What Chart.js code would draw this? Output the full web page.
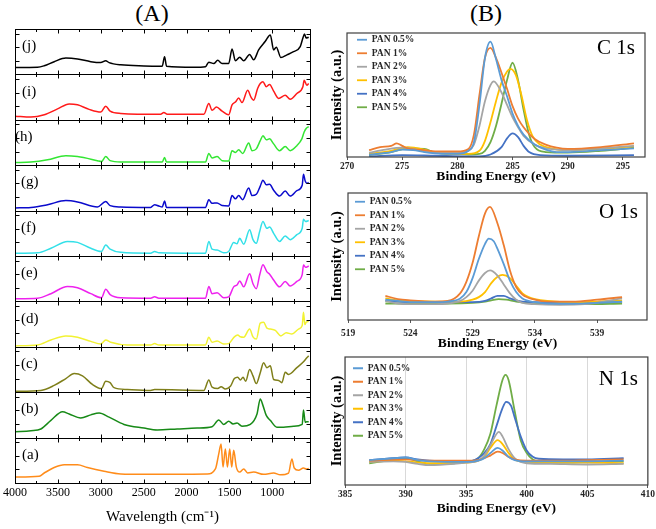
<!DOCTYPE html>
<html>
<head>
<meta charset="utf-8">
<script src="https://cdn.jsdelivr.net/npm/chart.js@4.4.1/dist/chart.umd.min.js"></script>
<style>
  html, body { margin: 0; padding: 0; background: #fff; }
  #page { position: relative; width: 656px; height: 529px; overflow: hidden; }
  canvas { position: absolute; }
  .head { position: absolute; font: 24px "Liberation Serif", serif; color: #000; transform: translate(-50%, -50%); }
</style>
</head>
<body>
<div id="page">
  <div class="head" style="left:152px;top:13px">(A)</div>
  <div class="head" style="left:486px;top:13px">(B)</div>
  <canvas id="ftir" width="330" height="529" style="left:0;top:0"></canvas>
  <canvas id="c1s" width="326" height="165" style="left:330px;top:20px"></canvas>
  <canvas id="o1s" width="326" height="167" style="left:330px;top:185px"></canvas>
  <canvas id="n1s" width="326" height="177" style="left:330px;top:352px"></canvas>
</div>
<script>
// ---- (A) FTIR spectra, [wavenumber, relative intensity in its own panel] ----
const ftirJ = [[4000,0.15],[3736,0.156],[3659,0.19],[3543,0.28],[3407,0.36],[3271,0.34],[3116,0.28],[3000,0.26],[2942,0.30],[2903,0.26],[2767,0.21],[2496,0.185],[2283,0.18],[2256,0.39],[2233,0.18],[1915,0.155],[1779,0.17],[1740,0.27],[1682,0.24],[1636,0.31],[1585,0.24],[1508,0.24],[1469,0.56],[1430,0.30],[1380,0.38],[1333,0.30],[1264,0.44],[1217,0.32],[1159,0.54],[1081,0.73],[1023,0.87],[984,0.54],[953,0.60],[899,0.37],[829,0.43],[752,0.50],[674,0.61],[643,0.80],[624,0.89],[605,0.80],[575,0.82]];
const ftirI = [[4000,0.08],[3814,0.06],[3659,0.11],[3504,0.24],[3368,0.35],[3271,0.33],[3136,0.23],[3000,0.17],[2942,0.30],[2891,0.19],[2767,0.14],[2302,0.12],[2264,0.16],[2225,0.12],[1798,0.12],[1740,0.36],[1702,0.21],[1651,0.28],[1585,0.19],[1508,0.11],[1469,0.33],[1430,0.39],[1392,0.48],[1353,0.38],[1287,0.65],[1248,0.50],[1217,0.43],[1171,0.69],[1140,0.80],[1109,0.84],[1070,0.73],[1031,0.78],[984,0.63],[926,0.47],[849,0.54],[791,0.45],[713,0.58],[643,0.73],[628,0.87],[597,0.76],[575,0.80]];
const ftirH = [[4000,0.06],[3814,0.07],[3620,0.12],[3407,0.21],[3271,0.19],[3039,0.10],[2992,0.08],[2942,0.19],[2891,0.10],[2767,0.07],[2283,0.07],[2256,0.17],[2233,0.07],[1779,0.07],[1740,0.26],[1702,0.16],[1643,0.19],[1585,0.10],[1508,0.09],[1469,0.32],[1430,0.28],[1392,0.34],[1345,0.26],[1275,0.49],[1236,0.32],[1186,0.36],[1140,0.54],[1109,0.65],[1070,0.56],[1031,0.58],[984,0.47],[915,0.32],[849,0.41],[791,0.32],[713,0.43],[655,0.58],[628,0.73],[605,0.81],[575,0.85]];
const ftirG = [[4000,0.06],[3814,0.07],[3620,0.13],[3407,0.22],[3271,0.19],[3039,0.08],[2942,0.20],[2891,0.11],[2767,0.08],[2419,0.07],[2372,0.13],[2322,0.10],[2283,0.08],[2256,0.21],[2233,0.07],[1779,0.07],[1740,0.24],[1702,0.16],[1643,0.17],[1585,0.11],[1508,0.10],[1469,0.33],[1430,0.26],[1392,0.33],[1345,0.24],[1275,0.50],[1236,0.33],[1186,0.36],[1140,0.54],[1109,0.67],[1070,0.57],[1031,0.58],[984,0.45],[915,0.32],[849,0.43],[791,0.32],[713,0.44],[651,0.56],[636,0.80],[616,0.65],[597,0.60],[575,0.62]];
const ftirF = [[4000,0.06],[3736,0.07],[3581,0.17],[3388,0.32],[3271,0.30],[3116,0.17],[2992,0.10],[2942,0.24],[2891,0.15],[2767,0.08],[2419,0.06],[2372,0.10],[2322,0.07],[1779,0.06],[1740,0.32],[1702,0.15],[1643,0.13],[1566,0.07],[1508,0.10],[1450,0.30],[1411,0.27],[1380,0.39],[1333,0.26],[1264,0.58],[1225,0.36],[1186,0.28],[1147,0.54],[1109,0.76],[1062,0.61],[1031,0.64],[984,0.50],[915,0.32],[849,0.44],[791,0.36],[713,0.47],[651,0.61],[636,0.81],[612,0.76],[575,0.78]];
const ftirE = [[4000,0.06],[3736,0.07],[3581,0.17],[3388,0.33],[3271,0.30],[3116,0.17],[2992,0.08],[2942,0.27],[2891,0.15],[2767,0.08],[2419,0.07],[2372,0.10],[2322,0.07],[1779,0.07],[1740,0.33],[1702,0.17],[1643,0.19],[1566,0.08],[1508,0.10],[1450,0.32],[1411,0.36],[1380,0.45],[1333,0.32],[1264,0.61],[1225,0.39],[1186,0.28],[1147,0.58],[1109,0.81],[1062,0.65],[1031,0.60],[984,0.47],[915,0.32],[849,0.44],[791,0.34],[713,0.44],[651,0.59],[636,0.80],[612,0.75],[575,0.78]];
const ftirD = [[4000,0.02],[3736,0.04],[3581,0.15],[3407,0.24],[3271,0.21],[3116,0.12],[3000,0.06],[2942,0.15],[2884,0.10],[2690,0.04],[2419,0.04],[2372,0.07],[2322,0.04],[1779,0.04],[1740,0.21],[1702,0.10],[1643,0.13],[1566,0.06],[1508,0.07],[1442,0.22],[1403,0.26],[1372,0.22],[1333,0.21],[1264,0.39],[1225,0.22],[1186,0.17],[1140,0.52],[1101,0.54],[1062,0.41],[1023,0.39],[965,0.36],[899,0.24],[837,0.31],[771,0.28],[694,0.39],[651,0.47],[636,0.76],[620,0.49],[605,0.54],[575,0.56]];
const ftirC = [[4000,0.02],[3698,0.04],[3543,0.15],[3407,0.30],[3310,0.41],[3213,0.36],[3097,0.17],[2992,0.08],[2942,0.24],[2891,0.21],[2845,0.10],[2690,0.06],[2419,0.04],[2372,0.06],[1798,0.04],[1740,0.27],[1702,0.11],[1636,0.08],[1597,0.12],[1547,0.07],[1488,0.13],[1442,0.30],[1403,0.33],[1372,0.27],[1341,0.33],[1310,0.24],[1264,0.50],[1225,0.36],[1186,0.19],[1140,0.43],[1101,0.65],[1062,0.54],[1023,0.58],[984,0.28],[926,0.26],[888,0.21],[849,0.44],[810,0.39],[713,0.54],[636,0.67],[597,0.76],[575,0.80]];
const ftirB = [[4000,0.13],[3814,0.15],[3698,0.19],[3581,0.38],[3446,0.57],[3368,0.52],[3233,0.43],[3116,0.50],[3019,0.54],[2903,0.45],[2729,0.29],[2496,0.21],[2341,0.17],[2109,0.19],[1876,0.21],[1702,0.24],[1624,0.39],[1566,0.29],[1508,0.36],[1457,0.30],[1411,0.32],[1353,0.25],[1256,0.29],[1178,0.52],[1140,0.85],[1109,0.71],[1070,0.49],[1023,0.38],[946,0.23],[868,0.23],[752,0.25],[651,0.29],[636,0.61],[616,0.34],[597,0.35],[575,0.35]];
const ftirA = [[4000,0.13],[3717,0.15],[3659,0.22],[3543,0.34],[3426,0.40],[3271,0.40],[3155,0.34],[2961,0.26],[2767,0.20],[2496,0.19],[2109,0.19],[1760,0.20],[1663,0.31],[1624,0.64],[1597,0.86],[1574,0.35],[1547,0.75],[1523,0.35],[1496,0.75],[1473,0.35],[1450,0.72],[1419,0.35],[1380,0.24],[1333,0.31],[1287,0.22],[1217,0.24],[1101,0.19],[984,0.22],[907,0.18],[810,0.22],[771,0.53],[744,0.33],[694,0.28],[636,0.33],[605,0.31],[575,0.32]];

const FTIR_KEYS = ['j', 'i', 'h', 'g', 'f', 'e', 'd', 'c', 'b', 'a'];   // top to bottom
const FTIR_SPECTRA = { j: ftirJ, i: ftirI, h: ftirH, g: ftirG, f: ftirF, e: ftirE, d: ftirD, c: ftirC, b: ftirB, a: ftirA };
const FTIR_TICKS = [4000, 3750, 3500, 3250, 3000, 2750, 2500, 2250, 2000, 1750, 1500, 1250, 1000, 750];
const FTIR_YTICKS = [0.3, 0.6, 0.9];

// ---- (B) XPS, [binding energy, intensity in % of plot height], order PAN 0.5% .. 5% ----
const PAN_LABELS = ['PAN 0.5%', 'PAN 1%', 'PAN 2%', 'PAN 3%', 'PAN 4%', 'PAN 5%'];

const c1sPan05 = [[272,2],[274,4],[275,6],[276,5.5],[277,4],[278,3],[279,2.5],[280,2.5],[281,5],[281.5,12],[282,42],[282.5,80],[283,93],[283.5,79],[284,62],[284.5,49],[285,35],[285.5,25],[286,18],[287,10],[288,6],[289,4],[290,4],[292,5],[294,6],[296,7]];
const c1sPan1 = [[272,5.5],[273,8],[274,9],[274.5,11],[275,9],[275.5,7],[277,5.5],[278,4.5],[280,4.5],[281,6.5],[281.5,18],[282,50],[282.5,80],[283,88],[283.5,80],[284,68],[284.5,55],[285,41],[285.5,31],[286,24],[287,14.5],[288,10],[289,7.5],[290,6.5],[293,8],[296,11]];
const c1sPan2 = [[272,3.5],[273.5,6],[275,7.5],[276,6.5],[277,4.5],[279,3.5],[280,3.5],[281,5],[281.5,10],[282,25],[282.5,45],[283,58],[283.3,61],[284,52],[284.5,42],[285,32],[285.5,24],[286,17],[287,10],[288,7],[289,6],[290,5.5],[293,7],[296,9]];
const c1sPan3 = [[272,2.5],[274,5],[275.5,8],[277,6],[278,3.5],[280,2.5],[281,2.5],[282,5],[282.5,13],[283,28],[283.5,45],[284,60],[284.5,69],[284.8,71],[285.3,66],[285.8,50],[286.3,30],[286.8,17],[287.5,10],[288.5,7],[290,5.5],[293,6.5],[296,8.5]];
const c1sPan4 = [[272,0.5],[275,1.5],[278,1],[281,0.5],[282,0.5],[283,2],[284,8],[284.5,15],[285,19],[285.5,16],[286,9],[286.5,4],[287.5,1.5],[290,1],[296,1.5]];
const c1sPan5 = [[272,1.5],[274,4],[275.5,7],[277,6.5],[278,3.5],[280,2.5],[281,2],[282,2.5],[282.5,5],[283,12],[283.5,25],[284,43],[284.5,62],[285,76],[285.5,62],[286,38],[286.5,18],[287,8],[288,4],[290,3.5],[293,5],[296,7.5]];

const o1sPan05 = [[522,16],[523,15],[524,14],[526,14],[527,14.5],[528,17],[528.5,22],[529,33],[529.5,48],[530,60],[530.3,64],[530.7,62],[531,56],[531.5,44],[532,31],[532.5,22],[533,17],[534,14],[535,13],[537,12.8],[539,13.5],[541,14.5]];
const o1sPan1 = [[522,19],[523,16.5],[524,15.5],[526,14.5],[527,15],[528,21],[528.5,30],[529,45],[529.5,66],[530,84],[530.4,89],[531,76],[531.5,59],[532,39],[532.5,26],[533,20],[534,16],[535,14.5],[537,14.5],[539,16],[541,18]];
const o1sPan2 = [[522,15],[523,13],[524,12.5],[526,12.5],[527,13],[528,15],[528.5,18],[529,23],[529.5,31],[530,37],[530.4,39],[531,35],[531.5,28],[532,21],[532.5,16],[533,13.5],[534,12.5],[536,12],[538,12.5],[541,17]];
const o1sPan3 = [[522,17],[523,15.5],[524,15],[526,14.5],[527,14.5],[528,14.5],[529,16],[529.5,18],[530,22],[530.5,29],[531,34],[531.4,35.5],[532,33],[532.5,27],[533,21],[533.5,18],[534,16.5],[535,15],[537,14],[539,14.5],[541,15.5]];
const o1sPan4 = [[522,15],[524,14],[527,14],[529,14],[530,15],[530.5,17],[531,19],[531.5,19],[532,17],[532.5,15.5],[533,14.5],[534,14],[537,13.5],[541,14.5]];
const o1sPan5 = [[522,13],[524,13],[527,13],[529,13.5],[530,14.5],[530.5,15.5],[531.1,16.5],[531.7,16],[532.5,14.5],[533.5,13.5],[535,13],[538,12.5],[541,13]];

const n1sPan05 = [[387,19.5],[388.5,20.5],[390,21.5],[391,19.5],[392,18.5],[395,18],[396,19],[396.5,21],[397,25],[397.6,29],[398,27],[398.5,22],[399,19.5],[400,18.5],[403,18.5],[405,18.5],[408,19]];
const n1sPan1 = [[387,19],[390,20],[392,19],[395,19],[396,19.5],[397,23],[397.6,26],[398,25],[398.5,22],[399,20],[400,19],[403,19],[405,19.5],[408,20]];
const n1sPan2 = [[387,18],[389,18.5],[390,18],[391,16.5],[392,15.5],[394,16.5],[395,17.5],[396,19],[396.5,23],[397,31],[397.7,41.5],[398,38],[398.5,28],[399,21],[399.5,18],[400,17],[402,16.5],[405,16],[408,16.5]];
const n1sPan3 = [[387,18],[389,19],[390,18.5],[392,17],[395,17.5],[396,19],[396.5,22],[397,29],[397.6,35],[398,32],[398.5,25],[399,20],[400,18],[402,17.5],[405,17.5],[408,17]];
const n1sPan4 = [[387,19.5],[388.5,20.5],[390,21.5],[391,20],[392,19],[395,18],[396,21],[396.5,25],[397,32],[397.5,46],[398,60],[398.3,65],[398.7,62],[399,53],[399.5,38],[400,27],[400.5,22],[401,20.5],[403,20],[405,20],[408,21]];
const n1sPan5 = [[387,17],[388.5,19],[390,21],[391,18.5],[392,16.5],[394,17],[395,18],[396,21],[396.5,28],[397,40],[397.5,62],[398,82],[398.25,86],[398.5,82],[399,58],[399.5,35],[400,25],[400.5,20],[401,18.5],[403,17.5],[405,18],[408,18.5]];

const C1S_TICKS = [270, 275, 280, 285, 290, 295];
const O1S_TICKS = [519, 524, 529, 534, 539];
const N1S_TICKS = [385, 390, 395, 400, 405, 410];

// ---- styles ----
const FTIR_COLORS = { j: '#000000', i: '#ff1a1a', h: '#33e633', g: '#0a0acc', f: '#33e0e8', e: '#ee22ee', d: '#f2f233', c: '#7f7f1a', b: '#178a17', a: '#ff8c1a' };
const PAN_COLORS = ['#5b9bd5', '#ed7d31', '#a5a5a5', '#ffc000', '#4472c4', '#70ad47'];

Chart.defaults.font.family = '"Liberation Serif", "Times New Roman", serif';
Chart.defaults.color = '#000';

// frames, inward ticks and (a)..(j) labels for the stacked FTIR panels
const ftirFrame = {
  id: 'ftirFrame',
  afterDatasetsDraw(chart, args, opts) {
    const { ctx, chartArea: a } = chart;
    const xs = chart.scales.x;
    ctx.save();
    ctx.strokeStyle = '#000';
    ctx.lineWidth = 1;
    ctx.fillStyle = '#000';
    ctx.font = '15px "Liberation Serif"';
    ctx.textBaseline = 'middle';
    const left = Math.round(a.left) + 0.5, right = Math.round(a.right) + 0.5;
    FTIR_KEYS.forEach(k => {
      const s = chart.scales['y' + k];
      const top = Math.round(s.top) + 0.5, bot = Math.round(s.bottom) + 0.5;
      ctx.strokeRect(left, top, right - left, bot - top);
      ctx.beginPath();
      xs.ticks.forEach(t => {
        if (t.value <= xs.min || t.value >= xs.max) return;
        const px = Math.round(xs.getPixelForValue(t.value)) + 0.5;
        const len = t.value % 500 === 0 ? 4 : 2.5;
        ctx.moveTo(px, top); ctx.lineTo(px, top + len);
        ctx.moveTo(px, bot); ctx.lineTo(px, bot - len);
      });
      s.ticks.forEach(t => {
        const py = Math.round(s.getPixelForValue(t.value)) + 0.5;
        ctx.moveTo(left, py); ctx.lineTo(left + 4, py);
        ctx.moveTo(right, py); ctx.lineTo(right - 4, py);
      });
      ctx.stroke();
      ctx.fillText('(' + k + ')', opts.labelX[k], s.top + s.height * 0.38);
    });
    ctx.restore();
  }
};

const ftirScales = {
  x: {
    type: 'linear', reverse: true, min: 560, max: 4000,
    afterBuildTicks: s => { s.ticks = FTIR_TICKS.map(v => ({ value: v })); },
    afterFit: s => { s.height = 46; },
    ticks: { autoSkip: false, maxRotation: 0, padding: 3, color: '#000', font: { size: 12 },
             callback: v => (v % 500 === 0 ? v : '') },
    grid: { display: false, drawTicks: false },
    border: { display: false },
    title: { display: true, text: 'Wavelength (cm⁻¹)', color: '#000', font: { size: 15 }, padding: { top: 0, bottom: 3 } }
  }
};
FTIR_KEYS.forEach((k, i) => {
  ftirScales['y' + k] = {
    type: 'linear', position: 'left', stack: 'ftir', stackWeight: 1, weight: FTIR_KEYS.length - i,
    min: 0, max: 1,
    afterBuildTicks: s => { s.ticks = FTIR_YTICKS.map(v => ({ value: v })); },
    afterFit: s => { s.width = 0; },
    ticks: { display: false },
    grid: { display: false },
    border: { display: false }
  };
});

new Chart(document.getElementById('ftir'), {
  type: 'line',
  data: {
    datasets: FTIR_KEYS.map(k => ({
      label: '(' + k + ')',
      data: FTIR_SPECTRA[k].map(([x, y]) => ({ x, y })),
      yAxisID: 'y' + k,
      borderColor: FTIR_COLORS[k],
      borderWidth: 1.5,
      pointRadius: 0,
      cubicInterpolationMode: 'monotone',
      fill: false
    }))
  },
  options: {
    responsive: false,
    animation: false,
    events: [],
    layout: { padding: { left: 13, right: 20, top: 29, bottom: 0 } },
    scales: ftirScales,
    plugins: {
      legend: { display: false },
      tooltip: { enabled: false },
      ftirFrame: { labelX: { j: 22, i: 22, h: 15, g: 21, f: 21, e: 21, d: 21, c: 21, b: 21, a: 22 } }
    }
  },
  plugins: [ftirFrame]
});

// plot border, core-level label and legend placement for the XPS charts
const xpsFrame = {
  id: 'xpsFrame',
  afterLayout(chart, args, opts) {
    const a = chart.chartArea, lg = chart.legend;
    lg.left = a.left + opts.shift[0];
    lg.top = a.top + opts.shift[1];
    lg.bottom = a.bottom;
  },
  afterDatasetsDraw(chart, args, opts) {
    const { ctx, chartArea: a } = chart;
    ctx.save();
    ctx.strokeStyle = '#404040';
    ctx.lineWidth = 1.2;
    ctx.strokeRect(a.left, a.top, a.width, a.height);
    ctx.fillStyle = '#000';
    ctx.font = '21px "Liberation Serif"';
    ctx.textAlign = 'right';
    ctx.textBaseline = 'middle';
    ctx.fillText(opts.text, a.right - opts.dx, a.top + opts.dy);
    ctx.restore();
  }
};

function xpsChart(id, series, ticks, range, cfg) {
  return new Chart(document.getElementById(id), {
    type: 'line',
    data: {
      datasets: series.map((pts, k) => ({
        label: PAN_LABELS[k],
        data: pts.map(([x, y]) => ({ x, y })),
        borderColor: PAN_COLORS[k],
        backgroundColor: PAN_COLORS[k],
        borderWidth: 1.8,
        pointRadius: 0,
        cubicInterpolationMode: 'monotone',
        fill: false
      }))
    },
    options: {
      responsive: false,
      animation: false,
      events: [],
      layout: { padding: cfg.pad },
      scales: {
        x: {
          type: 'linear', min: range[0], max: range[1],
          afterBuildTicks: s => { s.ticks = ticks.map(v => ({ value: v })); },
          afterFit: s => { s.height = cfg.xh; },
          ticks: { autoSkip: false, maxRotation: 0, padding: cfg.tickPad, color: '#262626', font: { size: 9.5, weight: 'bold' } },
          grid: { color: cfg.grid ? '#d9d9d9' : 'rgba(0,0,0,0)', drawOnChartArea: cfg.grid, tickLength: 3, tickColor: '#595959' },
          border: { display: false },
          title: { display: true, text: 'Binding Energy (eV)', color: '#000', font: { size: 13.5, weight: 'bold' }, padding: 0 }
        },
        y: {
          min: 0, max: 100,
          afterFit: s => { s.width = cfg.yw; },
          ticks: { display: false },
          grid: { display: false },
          border: { display: false },
          title: { display: true, text: 'Intensity (a.u.)', color: '#000', font: { size: 14.5, weight: 'bold', lineHeight: 1 }, padding: 0 }
        }
      },
      plugins: {
        legend: {
          position: 'chartArea', align: 'start',
          labels: { usePointStyle: true, pointStyle: 'line', pointStyleWidth: 10, padding: 4,
                    color: '#262626', font: { size: 9.5, weight: 'bold' } }
        },
        tooltip: { enabled: false },
        xpsFrame: { text: cfg.text, dx: cfg.tx, dy: cfg.ty, shift: cfg.shift }
      }
    },
    plugins: [xpsFrame]
  });
}

xpsChart('c1s', [c1sPan05, c1sPan1, c1sPan2, c1sPan3, c1sPan4, c1sPan5], C1S_TICKS, [270, 297],
  { pad: { left: 0, right: 11, top: 13, bottom: 0 }, xh: 28, yw: 17, tickPad: 1, grid: false,
    text: 'C 1s', tx: 10, ty: 15, shift: [6, -2] });

xpsChart('o1s', [o1sPan05, o1sPan1, o1sPan2, o1sPan3, o1sPan4, o1sPan5], O1S_TICKS, [519, 543],
  { pad: { left: 0, right: 9, top: 8, bottom: 0 }, xh: 32, yw: 18, tickPad: 5, grid: false,
    text: 'O 1s', tx: 9, ty: 19, shift: [3, 0] });

xpsChart('n1s', [n1sPan05, n1sPan1, n1sPan2, n1sPan3, n1sPan4, n1sPan5], N1S_TICKS, [385, 410],
  { pad: { left: 0, right: 8, top: 5, bottom: 12 }, xh: 32, yw: 15, tickPad: 1, grid: true,
    text: 'N 1s', tx: 10, ty: 22, shift: [4, 2.5] });
</script>
</body>
</html>
